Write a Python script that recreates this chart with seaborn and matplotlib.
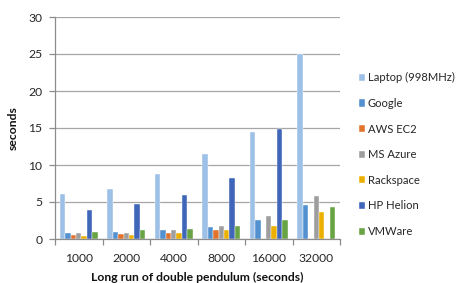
import matplotlib
matplotlib.use("Agg")
import matplotlib.pyplot as plt
import numpy as np
import pandas as pd
import seaborn as sns

runs = ["1000", "2000", "4000", "8000", "16000", "32000"]
platforms = ["Laptop (998MHz)", "Google", "AWS EC2", "MS Azure", "Rackspace", "HP Helion", "VMWare"]

laptop = [6.05, 6.7, 8.8, 11.5, 14.5, 25.0]
google = [0.85, 1.0, 1.25, 1.65, 2.6, 4.55]
aws = [0.5, 0.65, 0.75, 1.2, np.nan, np.nan]
azure = [0.75, 0.85, 1.15, 1.75, 3.05, 5.8]
rackspace = [0.35, 0.5, 0.75, 1.2, 1.8, 3.7]
hp = [3.95, 4.7, 5.9, 8.3, 14.9, np.nan]
vmware = [1.0, 1.15, 1.4, 1.75, 2.6, 4.3]

colors = ["#9DC0E6", "#5290CF", "#E2732D", "#9E9E9E", "#EBB000", "#3F66B8", "#68A443"]

rows = []
for name, vals in zip(platforms, [laptop, google, aws, azure, rackspace, hp, vmware]):
    for run, v in zip(runs, vals):
        rows.append({"run": run, "platform": name, "seconds": v})
df = pd.DataFrame(rows)

sns.set_theme(style="white")
plt.rcParams["font.family"] = ["Lato", "DejaVu Sans"]
fs = 8.7

fig = plt.figure(figsize=(4.62, 2.83), dpi=100)
ax = fig.add_axes([55 / 462, 1 - 239 / 283, 285 / 462, 222 / 283])

sns.barplot(
    df, x="run", y="seconds", hue="platform", order=runs, hue_order=platforms,
    palette=colors, saturation=1, width=0.81, ax=ax, edgecolor="white", linewidth=0.3,
)

ax.set_ylim(0, 30)
ax.set_yticks(range(0, 31, 5))
ax.set_xlim(-0.5, len(runs) - 0.5)
ax.yaxis.grid(True, color="#A6A6A6", linewidth=0.9)
ax.set_axisbelow(True)
for side in ["top", "right"]:
    ax.spines[side].set_visible(False)
for side in ["left", "bottom"]:
    ax.spines[side].set_color("#8C8C8C")
    ax.spines[side].set_linewidth(0.9)

ax.set_xticks(np.arange(-0.5, len(runs) + 0.5, 1), minor=True)
ax.tick_params(axis="x", which="major", length=0, labelsize=fs, pad=10)
ax.tick_params(axis="x", which="minor", length=4, color="#8C8C8C", width=0.9, direction="out", bottom=True)
ax.tick_params(axis="y", length=4, color="#8C8C8C", width=0.9, direction="out", left=True,
               labelsize=fs, pad=5)
for lab in ax.get_yticklabels() + ax.get_xticklabels():
    lab.set_color("#262626")

ax.set_xlabel("Long run of double pendulum (seconds)", fontsize=fs, fontweight="bold",
              labelpad=6, color="#111111")
ax.set_ylabel("seconds", fontsize=fs, fontweight="bold", labelpad=7, color="#111111")

ax.legend(loc="center left", bbox_to_anchor=(1.065, 0.38), frameon=False, fontsize=8.1,
          handlelength=0.6, handleheight=0.6, handletextpad=0.2, labelspacing=1.3,
          borderaxespad=0, borderpad=0)

fig.savefig("out.png", dpi=100)
